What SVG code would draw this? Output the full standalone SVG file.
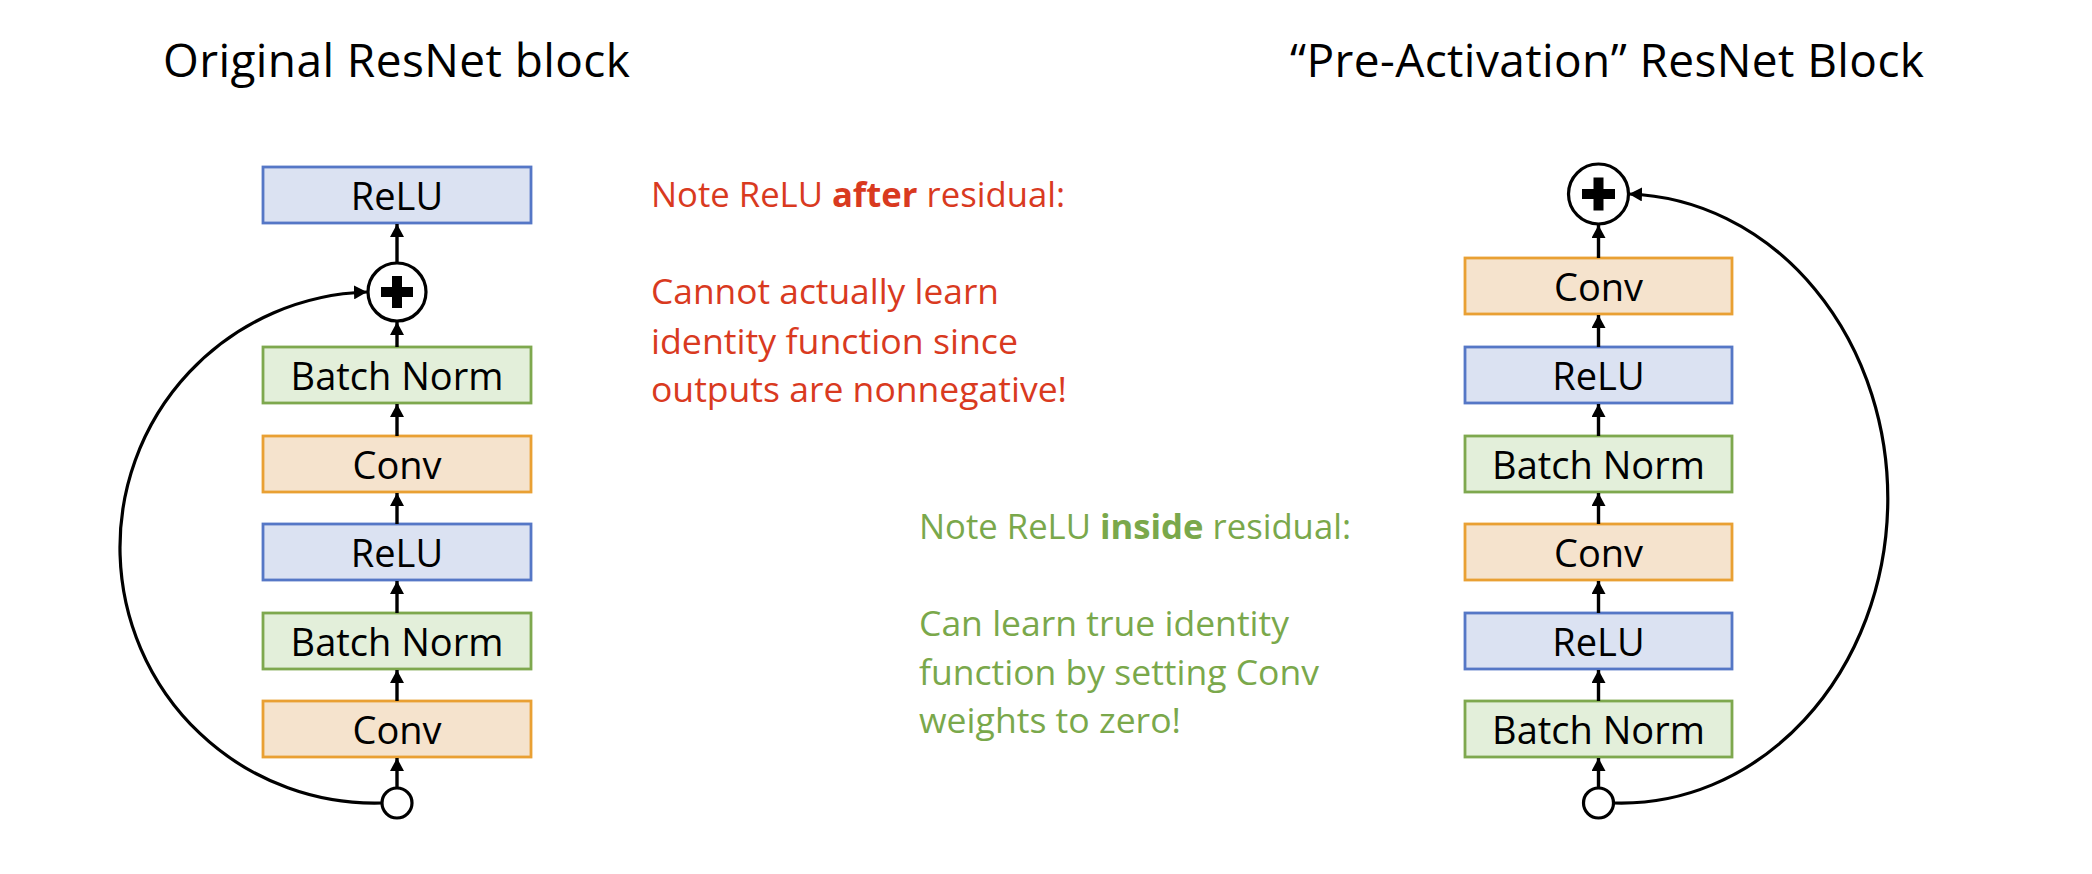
<svg xmlns="http://www.w3.org/2000/svg" width="2092" height="874" viewBox="0 0 2092 874">
<style>
  text { font-family: "Open Sans", "Liberation Sans", sans-serif; }
  .title { font-size: 46px; fill: #000; }
  .lbl { font-size: 38px; fill: #000; text-anchor: middle; }
  .relu { fill: #dbe2f2; stroke: #5577c6; stroke-width: 2.8; }
  .bn { fill: #e3efda; stroke: #7ea84e; stroke-width: 2.8; }
  .conv { fill: #f5e3cd; stroke: #e9a033; stroke-width: 2.8; }
  .sum { fill: #fff; stroke: #000; stroke-width: 3.2; }
  .plus { fill: #000; }
  .inp { fill: #fff; stroke: #000; stroke-width: 3.2; }
  .edge { fill: none; stroke: #000; stroke-width: 3.4; }
  .skip { fill: none; stroke: #000; stroke-width: 3.2; }
  .red { font-size: 34px; fill: #d93a1f; }
  .green { font-size: 34px; fill: #7aa84b; }
</style>
<defs>
  <marker id="ah" markerUnits="userSpaceOnUse" markerWidth="14" markerHeight="14" refX="13" refY="7" orient="auto">
    <path d="M0,0 L13,7 L0,14 z" fill="#000"/>
  </marker>
</defs>
<rect width="2092" height="874" fill="#fff"/>

<text class="title" x="163" y="77" textLength="467" lengthAdjust="spacing">Original ResNet block</text>
<text class="title" x="1290" y="77" textLength="634" lengthAdjust="spacing">“Pre-Activation” ResNet Block</text>

<!-- Left block -->
<g id="l_relu_top"><rect class="relu" x="263" y="167" width="268" height="56"/><text class="lbl" x="397" y="210">ReLU</text></g>
<g id="l_sum"><circle class="sum" cx="397" cy="292" r="29"/><rect class="plus" x="381" y="287" width="32" height="10"/><rect class="plus" x="392" y="276" width="10" height="32"/></g>
<g id="l_bn2"><rect class="bn" x="263" y="347" width="268" height="56"/><text class="lbl" x="397" y="390">Batch Norm</text></g>
<g id="l_conv2"><rect class="conv" x="263" y="436" width="268" height="56"/><text class="lbl" x="397" y="479">Conv</text></g>
<g id="l_relu1"><rect class="relu" x="263" y="524" width="268" height="56"/><text class="lbl" x="397" y="567">ReLU</text></g>
<g id="l_bn1"><rect class="bn" x="263" y="613" width="268" height="56"/><text class="lbl" x="397" y="656">Batch Norm</text></g>
<g id="l_conv1"><rect class="conv" x="263" y="701" width="268" height="56"/><text class="lbl" x="397" y="744">Conv</text></g>
<g id="l_in"><circle class="inp" cx="397" cy="803" r="15"/></g>

<!-- Right block -->
<g id="r_sum"><circle class="sum" cx="1598.5" cy="194" r="30"/><rect class="plus" x="1582" y="189" width="33" height="10"/><rect class="plus" x="1593.5" y="177.5" width="10" height="33"/></g>
<g id="r_conv2"><rect class="conv" x="1465" y="258" width="267" height="56"/><text class="lbl" x="1598.5" y="301">Conv</text></g>
<g id="r_relu2"><rect class="relu" x="1465" y="347" width="267" height="56"/><text class="lbl" x="1598.5" y="390">ReLU</text></g>
<g id="r_bn2"><rect class="bn" x="1465" y="436" width="267" height="56"/><text class="lbl" x="1598.5" y="479">Batch Norm</text></g>
<g id="r_conv1"><rect class="conv" x="1465" y="524" width="267" height="56"/><text class="lbl" x="1598.5" y="567">Conv</text></g>
<g id="r_relu1"><rect class="relu" x="1465" y="613" width="267" height="56"/><text class="lbl" x="1598.5" y="656">ReLU</text></g>
<g id="r_bn1"><rect class="bn" x="1465" y="701" width="267" height="56"/><text class="lbl" x="1598.5" y="744">Batch Norm</text></g>
<g id="r_in"><circle class="inp" cx="1598.5" cy="803" r="15"/></g>

<!-- Connectors -->
<g id="connectors">
  <line class="edge" x1="397" y1="262" x2="397" y2="224" marker-end="url(#ah)"/>
  <line class="edge" x1="397" y1="347" x2="397" y2="322" marker-end="url(#ah)"/>
  <line class="edge" x1="397" y1="436" x2="397" y2="404" marker-end="url(#ah)"/>
  <line class="edge" x1="397" y1="524" x2="397" y2="493" marker-end="url(#ah)"/>
  <line class="edge" x1="397" y1="613" x2="397" y2="581" marker-end="url(#ah)"/>
  <line class="edge" x1="397" y1="701" x2="397" y2="670" marker-end="url(#ah)"/>
  <line class="edge" x1="397" y1="788" x2="397" y2="758" marker-end="url(#ah)"/>
  <path class="skip" d="M382,803 A254 255 0 0 1 367,292" marker-end="url(#ah)"/>

  <line class="edge" x1="1598.5" y1="258" x2="1598.5" y2="225" marker-end="url(#ah)"/>
  <line class="edge" x1="1598.5" y1="347" x2="1598.5" y2="315" marker-end="url(#ah)"/>
  <line class="edge" x1="1598.5" y1="436" x2="1598.5" y2="404" marker-end="url(#ah)"/>
  <line class="edge" x1="1598.5" y1="524" x2="1598.5" y2="493" marker-end="url(#ah)"/>
  <line class="edge" x1="1598.5" y1="613" x2="1598.5" y2="581" marker-end="url(#ah)"/>
  <line class="edge" x1="1598.5" y1="701" x2="1598.5" y2="670" marker-end="url(#ah)"/>
  <line class="edge" x1="1598.5" y1="788" x2="1598.5" y2="758" marker-end="url(#ah)"/>
  <path class="skip" d="M1613.5,803 A266 304 0 0 0 1629,194" marker-end="url(#ah)"/>
</g>

<!-- Notes -->
<g id="note_red">
  <text class="red" x="651" y="207" textLength="414" lengthAdjust="spacingAndGlyphs">Note ReLU <tspan font-weight="bold">after</tspan> residual:</text>
  <text class="red" x="651" y="304" textLength="348" lengthAdjust="spacingAndGlyphs">Cannot actually learn</text>
  <text class="red" x="651" y="354" textLength="367" lengthAdjust="spacingAndGlyphs">identity function since</text>
  <text class="red" x="651" y="402" textLength="416" lengthAdjust="spacingAndGlyphs">outputs are nonnegative!</text>
</g>
<g id="note_green">
  <text class="green" x="919" y="539" textLength="432" lengthAdjust="spacingAndGlyphs">Note ReLU <tspan font-weight="bold">inside</tspan> residual:</text>
  <text class="green" x="919" y="636" textLength="370" lengthAdjust="spacingAndGlyphs">Can learn true identity</text>
  <text class="green" x="919" y="685" textLength="400" lengthAdjust="spacingAndGlyphs">function by setting Conv</text>
  <text class="green" x="919" y="733" textLength="262" lengthAdjust="spacingAndGlyphs">weights to zero!</text>
</g>
</svg>
